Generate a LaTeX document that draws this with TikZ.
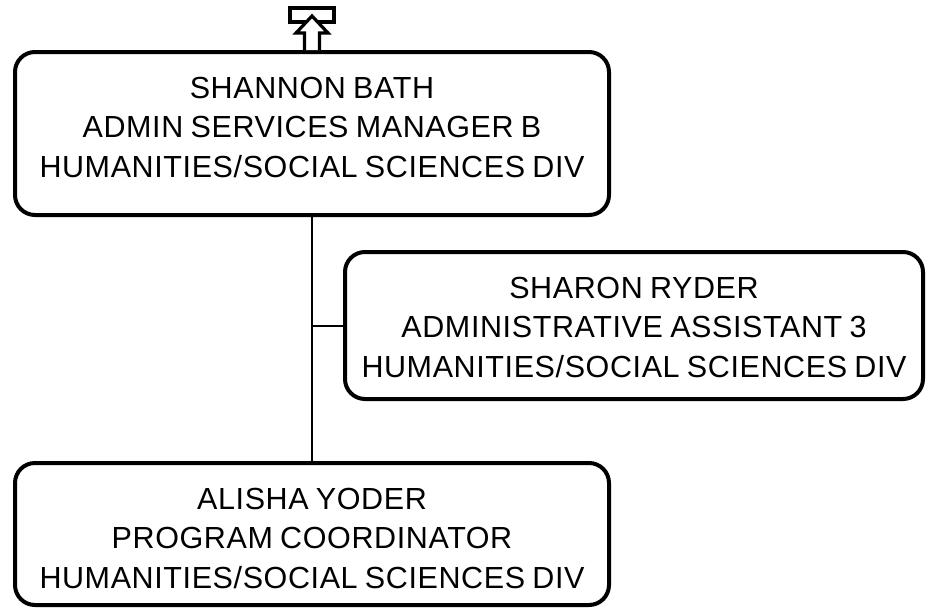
\documentclass[tikz,border=0pt]{standalone}
\usepackage{fontspec}
\setmainfont{Liberation Sans}[LetterSpace=2, WordSpace=0.8]
\usepackage{tikz}
\usepackage{xcolor}

\begin{document}
\begin{tikzpicture}[
    x=1pt, y=-1pt,
    box/.style={draw, line width=4pt, rounded corners=20pt, align=center, inner sep=0pt, text height=125pt, font=\fontsize{30.5}{39.5}\selectfont},
    conn/.style={line width=2pt},
    icon/.style={line width=3.2pt, fill=white}
]
\useasboundingbox (0,0) rectangle (928,608);
\node[box, minimum width=594, text depth=38pt] (shannon) at (312,133.5) {SHANNON BATH\\ADMIN SERVICES MANAGER B\\HUMANITIES/SOCIAL SCIENCES DIV};
\node[box, minimum width=578, text depth=22pt] (sharon) at (634,325.5) {SHARON RYDER\\ADMINISTRATIVE ASSISTANT 3\\HUMANITIES/SOCIAL SCIENCES DIV};
\node[box, minimum width=594, text depth=17pt] (alisha) at (312,534) {ALISHA YODER\\PROGRAM COORDINATOR\\HUMANITIES/SOCIAL SCIENCES DIV};
% up marker on top box
\begin{scope}[shift={(shannon.north)}]
\draw[icon] (-22,-42) rectangle (22,-28);
\draw[icon] (-7.5,0) -- (-7.5,-17) -- (-16,-17) -- (0,-34) -- (16,-17) -- (7.5,-17) -- (7.5,0);
\end{scope}
\draw[conn] (shannon.south) -- (alisha.north);
\draw[conn] (sharon.west) -- (sharon.west -| shannon.south);
\end{tikzpicture}
\end{document}
